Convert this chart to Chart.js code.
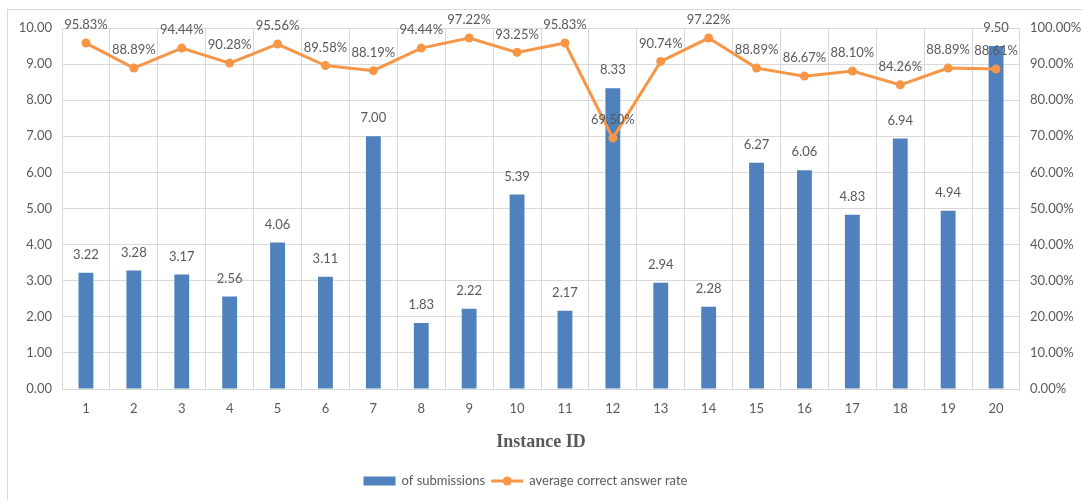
<!DOCTYPE html>
<html>
<head>
<meta charset="utf-8">
<script src="https://cdn.jsdelivr.net/npm/chart.js@4/dist/chart.umd.min.js"></script>
<style>
  html, body { margin: 0; padding: 0; background: #ffffff; }
  #wrap { width: 1083px; height: 500px; position: relative; }
</style>
</head>
<body>
<div id="wrap"><canvas id="c" width="1083" height="500"></canvas></div>
<script>
// Instance IDs along the x axis
const instanceIds = ['1','2','3','4','5','6','7','8','9','10','11','12','13','14','15','16','17','18','19','20'];
// Number of submissions per instance (left axis)
const submissions = [3.22, 3.28, 3.17, 2.56, 4.06, 3.11, 7.00, 1.83, 2.22, 5.39, 2.17, 8.33, 2.94, 2.28, 6.27, 6.06, 4.83, 6.94, 4.94, 9.50];
// Average correct answer rate in percent (right axis)
const correctRate = [95.83, 88.89, 94.44, 90.28, 95.56, 89.58, 88.19, 94.44, 97.22, 93.25, 95.83, 69.50, 90.74, 97.22, 88.89, 86.67, 88.10, 84.26, 88.89, 88.61];
// Axis tick settings
const leftTicks = { min: 0, max: 10, step: 1 };
const rightTicks = { min: 0, max: 100, step: 10 };

const seriesNames = ['of submissions', 'average correct answer rate'];
const axisTitle = 'Instance ID';

const BAR_COLOR = '#4F81BD';
const LINE_COLOR = '#F79646';
const TEXT_COLOR = '#595959';
const GRID_COLOR = '#D9D9D9';
const FONT = 'Lato, "Open Sans", sans-serif';

// Light frame around the whole chart
const framePlugin = {
  id: 'frame',
  beforeDraw(chart) {
    const ctx = chart.ctx;
    ctx.save();
    ctx.fillStyle = '#ffffff';
    ctx.fillRect(0, 0, chart.width, chart.height);
    ctx.strokeStyle = GRID_COLOR;
    ctx.lineWidth = 1;
    ctx.strokeRect(7.5, 9.5, chart.width + 20, chart.height + 20);
    ctx.restore();
  }
};

// Value labels above every bar and line point
const valueLabelPlugin = {
  id: 'valueLabels',
  afterDatasetsDraw(chart) {
    const ctx = chart.ctx;
    ctx.save();
    ctx.font = '13px ' + FONT;
    ctx.fillStyle = TEXT_COLOR;
    ctx.textAlign = 'center';
    ctx.textBaseline = 'middle';
    chart.data.datasets.forEach((ds, di) => {
      const meta = chart.getDatasetMeta(di);
      meta.data.forEach((el, i) => {
        const v = ds.data[i];
        const txt = ds.type === 'line' ? v.toFixed(2) + '%' : v.toFixed(2);
        ctx.fillText(txt, el.x, el.y - 18);
      });
    });
    ctx.restore();
  }
};

// Legend drawn under the axis title: bar swatch, and line with marker
const legendPlugin = {
  id: 'customLegend',
  afterDraw(chart) {
    const ctx = chart.ctx;
    ctx.save();
    ctx.font = '13px ' + FONT;
    ctx.textBaseline = 'middle';
    ctx.fillStyle = TEXT_COLOR;
    const cy = 481;
    const swatchW = 32, gap = 6, itemGap = 6;
    const w0 = ctx.measureText(seriesNames[0]).width;
    const w1 = ctx.measureText(seriesNames[1]).width;
    const total = swatchW + gap + w0 + itemGap + swatchW + gap + w1;
    let x = 525.5 - total / 2;
    // bar swatch
    ctx.fillStyle = BAR_COLOR;
    ctx.fillRect(x, cy - 4.5, swatchW, 9);
    x += swatchW + gap;
    ctx.fillStyle = TEXT_COLOR;
    ctx.fillText(seriesNames[0], x, cy);
    x += w0 + itemGap;
    // line swatch
    ctx.strokeStyle = LINE_COLOR;
    ctx.lineWidth = 3;
    ctx.beginPath();
    ctx.moveTo(x, cy);
    ctx.lineTo(x + swatchW, cy);
    ctx.stroke();
    ctx.fillStyle = LINE_COLOR;
    ctx.beginPath();
    ctx.arc(x + swatchW / 2, cy, 4.5, 0, Math.PI * 2);
    ctx.fill();
    x += swatchW + gap;
    ctx.fillStyle = TEXT_COLOR;
    ctx.fillText(seriesNames[1], x, cy);
    ctx.restore();
  }
};

new Chart(document.getElementById('c'), {
  data: {
    labels: instanceIds,
    datasets: [
      {
        type: 'line',
        label: seriesNames[1],
        data: correctRate,
        yAxisID: 'y1',
        borderColor: LINE_COLOR,
        backgroundColor: LINE_COLOR,
        borderWidth: 3,
        pointRadius: 4.5,
        pointHoverRadius: 4.5,
        pointBackgroundColor: LINE_COLOR,
        pointBorderWidth: 0,
        tension: 0,
        order: 0
      },
      {
        type: 'bar',
        label: seriesNames[0],
        data: submissions,
        yAxisID: 'y',
        backgroundColor: BAR_COLOR,
        barPercentage: 0.31,
        categoryPercentage: 1,
        order: 1
      }
    ]
  },
  options: {
    responsive: false,
    animation: false,
    devicePixelRatio: 1,
    layout: { padding: { top: 28, bottom: 40, left: 0, right: 0 } },
    plugins: {
      legend: { display: false },
      tooltip: { enabled: false }
    },
    scales: {
      x: {
        type: 'category',
        offset: true,
        grid: { offset: true, color: GRID_COLOR, drawTicks: false },
        border: { display: false },
        ticks: { color: TEXT_COLOR, font: { family: FONT, size: 13 }, padding: 12, maxRotation: 0 },
        title: {
          display: true,
          text: axisTitle,
          color: TEXT_COLOR,
          font: { family: '"Liberation Serif", serif', size: 18, weight: 'bold' },
          padding: { top: 11, bottom: 7 }
        },
        afterFit(scale) { scale.height = 71; }
      },
      y: {
        position: 'left',
        min: leftTicks.min,
        max: leftTicks.max,
        grid: { color: GRID_COLOR, drawTicks: false },
        border: { display: false },
        ticks: {
          stepSize: leftTicks.step,
          color: TEXT_COLOR,
          font: { family: FONT, size: 13 },
          padding: 10,
          callback: v => Number(v).toFixed(2)
        },
        afterFit(scale) { scale.width = 62; }
      },
      y1: {
        position: 'right',
        min: rightTicks.min,
        max: rightTicks.max,
        grid: { drawOnChartArea: false, drawTicks: false },
        border: { display: false },
        ticks: {
          stepSize: rightTicks.step,
          color: TEXT_COLOR,
          font: { family: FONT, size: 13 },
          padding: 10,
          callback: v => Number(v).toFixed(2) + '%'
        },
        afterFit(scale) { scale.width = 63; }
      }
    }
  },
  plugins: [framePlugin, valueLabelPlugin, legendPlugin]
});
</script>
</body>
</html>
